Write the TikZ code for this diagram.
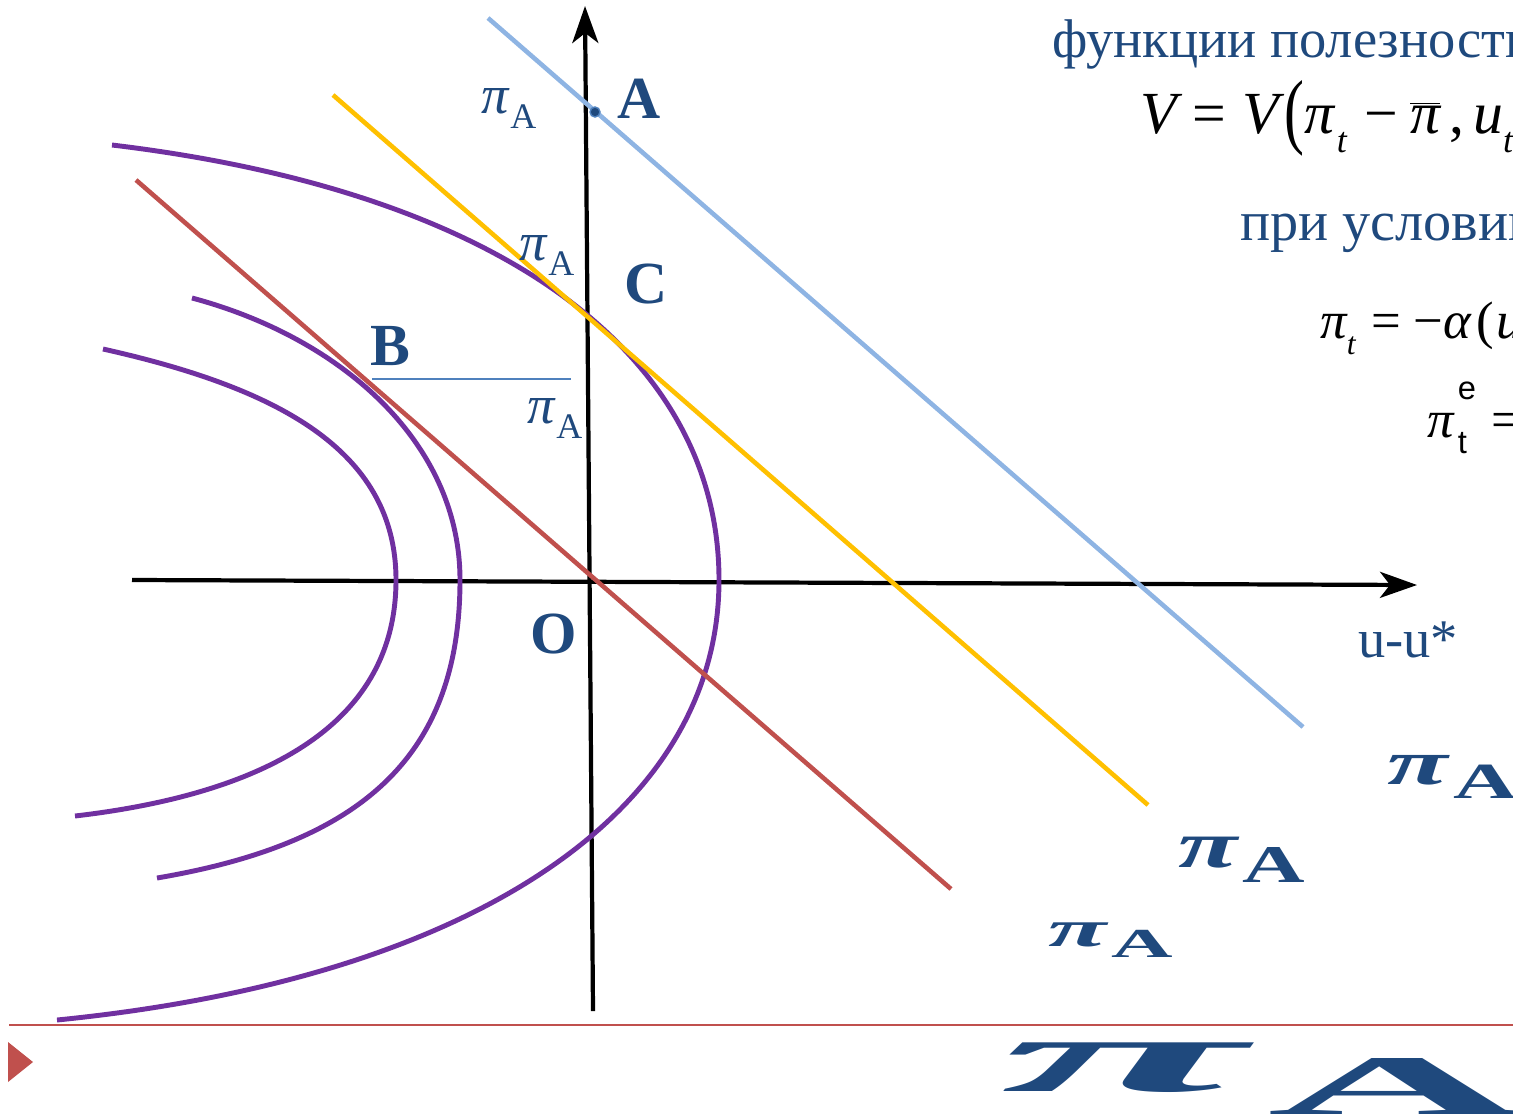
\documentclass[tikz,border=0pt]{standalone}
\usepackage{fontspec}
\setmainfont{Liberation Serif}
\newfontfamily\sansfont{Liberation Sans}
\usepackage{graphicx}
\usepackage{xcolor}
\usetikzlibrary{arrows.meta}

\definecolor{slideblue}{HTML}{1F497D}
\definecolor{lineblue}{HTML}{8EB4E3}
\definecolor{lineyellow}{HTML}{FFC000}
\definecolor{linered}{HTML}{C0504D}
\definecolor{curvepurple}{HTML}{7030A0}
\definecolor{thinblue}{HTML}{4F81BD}

\newcommand{\iv}[1]{{\itshape #1}}
\newcommand{\lowsub}[1]{\raisebox{-0.32em}{\scalebox{0.6}{\itshape #1}}}
\newcommand{\piA}{\iv{π}\kern0.03em\raisebox{-0.28em}{\scalebox{0.66}{A}}}
\newcommand{\bigpiA}{\iv{π}\kern0.05em\raisebox{-0.22em}{\scalebox{0.8}{A}}}

\begin{document}
\begin{tikzpicture}[
    x=0.02cm, y=-0.02cm,
    >={Stealth[length=0.74cm, width=0.52cm, inset=0.2cm]},
    axis_arrow/.style={draw=black, line width=2.4pt, ->},
    % Кривые Филлипса (Phillips lines)
    phillips_line/.style={line width=2.6pt},
    loss_curve/.style={draw=curvepurple, line width=2.8pt},
    % Подписи (labels)
    point_label/.style={anchor=base west, inner sep=0pt, text=slideblue, font=\fontsize{34}{38}\selectfont\bfseries},
    pi_label/.style={anchor=base west, inner sep=0pt, text=slideblue, font=\fontsize{31}{34}\selectfont},
    big_pi_label/.style={anchor=north west, inner sep=0pt, text=slideblue, font=\bfseries},
    slide_text/.style={anchor=base west, inner sep=0pt, text=slideblue, font=\fontsize{32}{36}\selectfont},
    formula_text/.style={anchor=base west, inner sep=0pt, text=black, font=\fontsize{34}{38}\selectfont}
]
    \useasboundingbox (0,0) rectangle (1513,1116);
    \clip (0,0) rectangle (1513,1116);

    % =========================================================================
    % ОСИ КООРДИНАТ (AXES)
    % =========================================================================
    \coordinate (x_start) at (132,580);
    \coordinate (x_end) at (1417,585);
    \coordinate (y_start) at (593,1011);
    \coordinate (y_end) at (585,6);
    \draw [axis_arrow] (x_start) -- (x_end);
    \draw [axis_arrow] (y_start) -- (y_end);

    % =========================================================================
    % КРИВЫЕ ПОТЕРЬ (LOSS CURVES)
    % =========================================================================
    \draw [loss_curve] (112,145) .. controls (512,193) and (719,360) .. (719,580)
                                 .. controls (719,810) and (477,978) .. (57,1020);
    \draw [loss_curve] (192,298) .. controls (342,338) and (460,443) .. (460,580)
                                 .. controls (460,760) and (357,844) .. (157,878);
    \draw [loss_curve] (103,349) .. controls (273,387) and (396,448) .. (396,580)
                                 .. controls (396,730) and (255,795) .. (75,816);

    % =========================================================================
    % КРИВЫЕ ФИЛЛИПСА (PHILLIPS LINES)
    % =========================================================================
    \draw [phillips_line, draw=linered] (136,180) -- (951,889);
    \draw [phillips_line, draw=lineyellow] (333,95) -- (1148,805);
    \draw [phillips_line, draw=lineblue] (488,18) -- (1303,727);
    \draw [draw=thinblue, line width=1.1pt] (372,379) -- (571,379);

    \node [circle, fill=slideblue, draw=thinblue, line width=0.8pt, inner sep=0pt, minimum size=0.2cm] (dotA) at (595,112) {};

    % =========================================================================
    % ПОДПИСИ ТОЧЕК (POINT LABELS)
    % =========================================================================
    \node [point_label] (ptA) at (617,118) {A};
    \node [point_label] (ptC) at (624,303) {C};
    \node [point_label] (ptB) at (370,365) {B};
    \node [point_label] (ptO) at (530,653) {O};

    \node [pi_label] (piA_top) at (481,113) {\piA};
    \node [pi_label] (piA_mid) at (519,260) {\piA};
    \node [pi_label] (piA_low) at (527,423) {\piA};

    \node [slide_text, font=\fontsize{31}{34}\selectfont] (axis_u) at (1358,657) {u-u*};

    \node [big_pi_label] (piA_blue) at (1387,755) {\resizebox*{2.6cm}{0.86cm}{\bigpiA}};
    \node [big_pi_label] (piA_yellow) at (1178,837) {\resizebox*{2.54cm}{0.9cm}{\bigpiA}};
    \node [big_pi_label] (piA_red) at (1048,922) {\resizebox*{2.5cm}{0.7cm}{\bigpiA}};
    \node [big_pi_label] (piA_foot) at (1000,1042) {\resizebox*{10.5cm}{1.44cm}{\bigpiA}};

    % =========================================================================
    % ТЕКСТ СЛАЙДА (SLIDE TEXT)
    % =========================================================================
    \node [slide_text, font=\fontsize{31}{35}\selectfont] (title) at (1052,57) {функции полезности};
    \node [formula_text] (util) at (1140,133) {\iv{V}\hspace{9pt}=\hspace{9pt}\iv{V}\kern0.1em\raisebox{-0.1em}{\scalebox{1}[1.4]{(}}\iv{π}\kern0.04em\lowsub{t}\hspace{10pt}−\hspace{7pt}$\overline{\hbox{\iv{π}}}$\kern0.15em,\kern0.15em\iv{u}\lowsub{t}};
    \node [slide_text] (cond) at (1240,240) {при условии};
    \node [formula_text, font=\fontsize{30}{34}\selectfont] (phil) at (1320,338) {\iv{π}\lowsub{t}\hspace{9pt}=\hspace{7pt}−\iv{α}\kern0.1em(\kern0.05em\iv{u}};
    \node [formula_text, font=\fontsize{30}{34}\selectfont] (expect) at (1427,437) {\iv{π}\kern0.08em\rlap{\raisebox{0.72em}{\scalebox{0.62}{\sansfont e}}}\raisebox{-0.32em}{\scalebox{0.62}{\sansfont t}}\hspace{14pt}=};

    % =========================================================================
    % НИЖНИЙ КОЛОНТИТУЛ (FOOTER)
    % =========================================================================
    \draw [draw=linered, line width=1.1pt] (9,1025) -- (1513,1025);
    \fill [linered] (8,1042) -- (33,1062) -- (8,1082) -- cycle;
\end{tikzpicture}
\end{document}
